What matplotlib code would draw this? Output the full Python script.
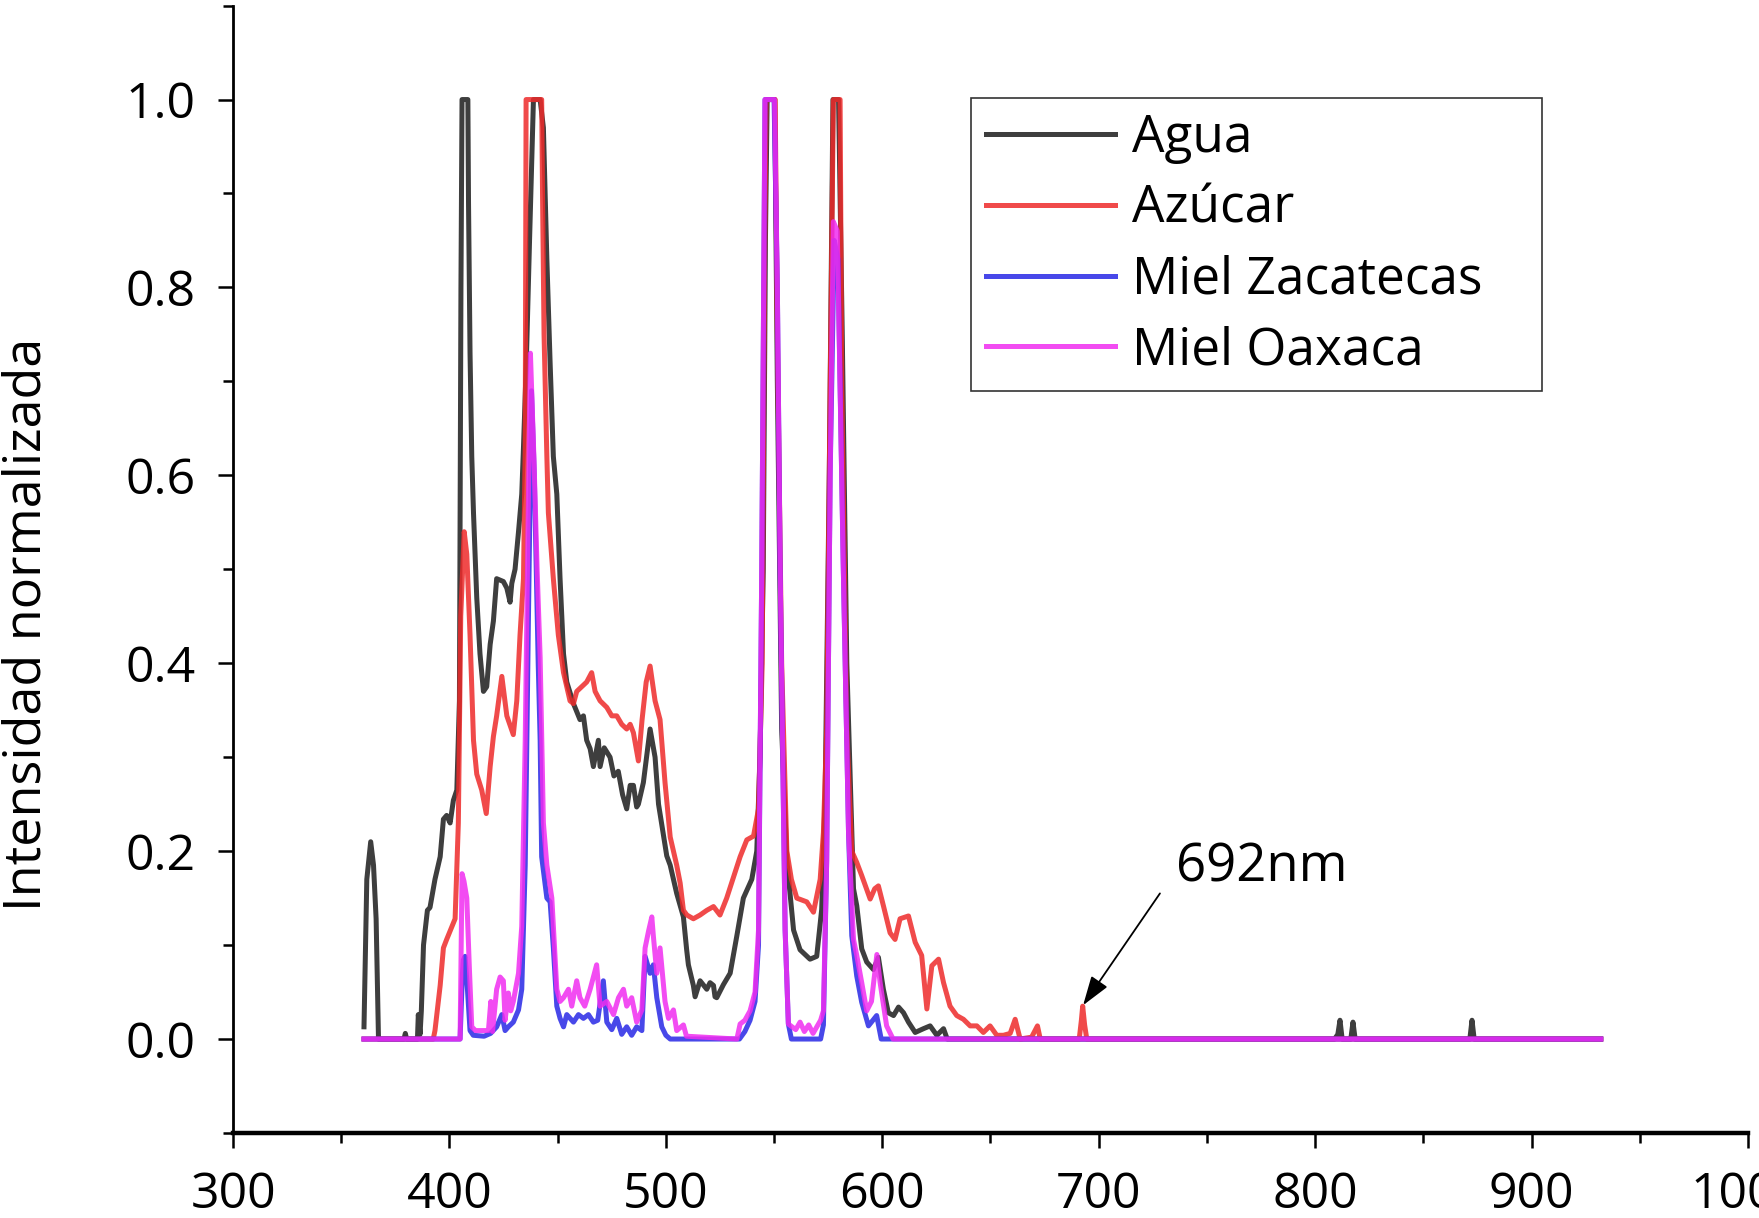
import matplotlib
matplotlib.use("Agg")
import matplotlib.pyplot as plt
from matplotlib.ticker import MultipleLocator

plt.rcParams['font.family'] = ['Open Sans', 'DejaVu Sans']

# Agua
agua_nm = [360.5, 361.8, 363.6, 364.9, 366.1, 367.2, 379.0, 379.6, 380.2, 385.2, 385.6, 386.4, 387.0, 388.0,
           389.8, 391.0, 393.3, 395.7, 397.2, 398.7, 400.3, 401.8, 403.4, 404.6, 405.3, 405.8, 408.5, 408.8,
           409.5, 410.3, 411.1, 412.6, 414.1, 415.7, 417.2, 418.8, 420.3, 421.8, 424.9, 426.5, 428.0, 428.8,
           430.3, 431.9, 433.4, 434.2, 435.5, 437.0, 438.8, 441.9, 443.4, 445.0, 446.5, 448.0, 449.6, 451.1,
           452.7, 454.2, 457.3, 460.3, 461.9, 463.4, 465.0, 466.5, 468.8, 469.6, 471.5, 474.2, 476.0, 478.0,
           480.0, 481.9, 483.5, 485.0, 486.5, 487.3, 489.6, 492.7, 495.0, 496.6, 498.0, 500.4, 502.0, 505.0,
           508.1, 509.6, 510.4, 512.7, 513.5, 515.8, 518.9, 520.4, 522.0, 522.7, 523.5, 526.6, 529.7, 532.8,
           535.8, 539.7, 542.0, 543.5, 545.0, 546.0, 546.8, 550.3, 551.5, 553.5, 555.9, 559.0, 562.0, 566.6,
           569.7, 572.0, 573.6, 575.5, 577.2, 579.8, 581.5, 583.6, 585.9, 586.7, 588.2, 590.5, 592.8, 595.9,
           598.2, 600.5, 602.8, 605.2, 607.5, 609.8, 612.1, 615.2, 619.0, 622.1, 625.2, 628.3, 630.0, 809.0,
           810.5, 811.5, 812.5, 816.5, 817.5, 818.5, 871.5, 872.5, 873.5, 932.0]
agua_int = [0.013, 0.17, 0.21, 0.185, 0.128, 0.0, 0.0, 0.006, 0.0, 0.0, 0.026, 0.005, 0.03, 0.10,
            0.137, 0.14, 0.17, 0.194, 0.234, 0.238, 0.23, 0.254, 0.265, 0.36, 0.8, 1.0, 1.0, 0.89,
            0.73, 0.62, 0.56, 0.47, 0.41, 0.37, 0.375, 0.42, 0.445, 0.49, 0.487, 0.48, 0.465, 0.485,
            0.50, 0.54, 0.58, 0.63, 0.72, 0.85, 1.0, 1.0, 0.97, 0.83, 0.72, 0.62, 0.58, 0.49,
            0.41, 0.38, 0.357, 0.34, 0.344, 0.318, 0.309, 0.29, 0.318, 0.29, 0.31, 0.30, 0.28, 0.285,
            0.26, 0.245, 0.27, 0.27, 0.247, 0.25, 0.273, 0.33, 0.30, 0.25, 0.23, 0.195, 0.185, 0.155,
            0.13, 0.095, 0.079, 0.057, 0.045, 0.062, 0.053, 0.06, 0.057, 0.045, 0.044, 0.058, 0.07, 0.11,
            0.15, 0.17, 0.2, 0.3, 0.5, 0.85, 1.0, 1.0, 0.7, 0.33, 0.19, 0.116, 0.095, 0.085,
            0.088, 0.138, 0.26, 0.6, 1.0, 1.0, 0.75, 0.40, 0.22, 0.16, 0.142, 0.096, 0.082, 0.074,
            0.087, 0.053, 0.028, 0.025, 0.034, 0.028, 0.018, 0.007, 0.011, 0.014, 0.004, 0.011, 0.0, 0.0,
            0.005, 0.02, 0.0, 0.0, 0.018, 0.0, 0.0, 0.02, 0.0, 0.0]

# Azucar
azucar_nm = [360.5, 392.5, 393.3, 395.7, 397.2, 398.7, 401.0, 402.6, 404.1, 405.2, 406.8, 408.0, 409.5, 411.1,
             412.6, 414.9, 417.0, 418.8, 420.3, 421.8, 424.2, 426.5, 429.5, 431.1, 432.6, 434.2, 435.0, 435.4,
             442.6, 443.0, 443.7, 445.0, 445.7, 448.0, 450.3, 452.7, 455.7, 457.3, 458.8, 461.1, 463.4, 465.7,
             467.3, 469.6, 472.7, 475.0, 477.3, 479.6, 481.9, 483.5, 485.0, 487.3, 489.0, 490.9, 492.7, 495.0,
             497.3, 499.6, 502.0, 505.0, 506.6, 508.1, 509.7, 512.7, 515.8, 518.9, 522.0, 525.0, 528.1, 531.2,
             534.3, 537.4, 540.5, 542.8, 544.5, 545.5, 546.3, 550.5, 551.5, 553.5, 555.9, 558.0, 560.5, 565.1,
             568.2, 571.3, 572.8, 574.3, 575.9, 577.4, 580.5, 581.3, 583.6, 585.9, 588.2, 590.5, 594.4, 596.5,
             598.2, 600.5, 603.6, 605.9, 608.2, 612.1, 615.2, 618.2, 620.6, 622.9, 626.0, 628.3, 631.3, 634.4,
             637.5, 640.6, 643.7, 646.7, 649.8, 652.9, 656.0, 659.1, 661.4, 663.7, 669.0, 671.7, 673.0, 691.0,
             692.0, 692.6, 693.5, 694.5, 932.0]
azucar_int = [0.0, 0.0, 0.009, 0.057, 0.097, 0.106, 0.119, 0.128, 0.23, 0.45, 0.54, 0.516, 0.43, 0.318,
              0.282, 0.265, 0.24, 0.29, 0.322, 0.344, 0.386, 0.344, 0.324, 0.36, 0.43, 0.49, 0.63, 1.0,
              1.0, 0.9, 0.75, 0.62, 0.56, 0.49, 0.43, 0.39, 0.36, 0.357, 0.37, 0.375, 0.38, 0.39,
              0.37, 0.36, 0.353, 0.344, 0.344, 0.335, 0.33, 0.335, 0.326, 0.296, 0.34, 0.38, 0.397, 0.36,
              0.34, 0.273, 0.215, 0.185, 0.166, 0.137, 0.132, 0.128, 0.132, 0.137, 0.141, 0.132, 0.15, 0.172,
              0.194, 0.212, 0.216, 0.245, 0.4, 0.8, 1.0, 1.0, 0.75, 0.4, 0.2, 0.17, 0.15, 0.146,
              0.135, 0.17, 0.22, 0.33, 0.69, 1.0, 1.0, 0.69, 0.33, 0.2, 0.188, 0.174, 0.149, 0.16,
              0.163, 0.142, 0.113, 0.106, 0.128, 0.131, 0.103, 0.089, 0.032, 0.078, 0.085, 0.06, 0.035, 0.025,
              0.021, 0.014, 0.014, 0.007, 0.014, 0.004, 0.004, 0.006, 0.021, 0.0, 0.002, 0.014, 0.0, 0.0,
              0.02, 0.035, 0.015, 0.0, 0.0]

# Miel Zacatecas
zacatecas_nm = [360.5, 404.9, 406.0, 406.4, 407.2, 408.3, 409.5, 411.0, 416.0, 419.0, 421.8, 424.2, 425.7, 427.2,
                429.5, 431.9, 433.4, 435.0, 436.5, 437.9, 439.2, 441.0, 441.9, 442.6, 445.0, 446.5, 448.0, 449.6,
                451.1, 452.7, 454.2, 457.3, 459.6, 461.9, 464.2, 466.5, 468.5, 471.1, 472.7, 475.0, 477.3, 479.6,
                481.9, 484.2, 486.5, 488.9, 490.4, 492.7, 494.2, 495.8, 498.1, 500.0, 502.0, 534.0, 536.5, 538.9,
                541.2, 542.8, 544.3, 545.8, 550.0, 551.5, 552.8, 555.1, 556.6, 558.0, 571.5, 572.8, 574.3, 575.9,
                577.8, 579.5, 582.0, 584.4, 585.9, 588.2, 590.5, 593.6, 597.4, 599.5, 932.0]
zacatecas_int = [0.0, 0.0, 0.07, 0.084, 0.088, 0.053, 0.009, 0.004, 0.003, 0.006, 0.013, 0.026, 0.009, 0.013,
                 0.018, 0.031, 0.053, 0.185, 0.45, 0.69, 0.6, 0.4, 0.318, 0.194, 0.15, 0.146, 0.097, 0.035,
                 0.022, 0.013, 0.026, 0.018, 0.026, 0.022, 0.026, 0.018, 0.02, 0.062, 0.018, 0.01, 0.022, 0.005,
                 0.013, 0.004, 0.013, 0.009, 0.088, 0.07, 0.079, 0.044, 0.013, 0.004, 0.0, 0.0, 0.008, 0.02,
                 0.04, 0.1, 0.5, 1.0, 1.0, 0.8, 0.5, 0.116, 0.016, 0.0, 0.0, 0.015, 0.19, 0.6,
                 0.85, 0.83, 0.5, 0.22, 0.11, 0.067, 0.039, 0.014, 0.025, 0.0, 0.0]

# Miel Oaxaca
oaxaca_nm = [360.5, 404.9, 405.8, 406.7, 408.0, 409.2, 410.3, 412.0, 418.0, 419.1, 419.9, 421.8, 423.4, 424.9,
             425.7, 427.2, 428.3, 429.5, 431.9, 433.4, 435.0, 436.5, 437.4, 439.0, 440.5, 441.9, 443.4, 445.0,
             447.3, 449.6, 451.1, 452.7, 455.0, 456.5, 458.8, 460.3, 462.5, 465.0, 468.0, 469.6, 472.7, 475.8,
             478.1, 480.4, 481.9, 484.2, 486.5, 488.9, 490.4, 492.0, 493.5, 494.2, 495.8, 497.3, 499.6, 501.2,
             503.5, 505.0, 508.1, 509.5, 532.8, 534.3, 536.5, 538.9, 541.2, 542.8, 544.3, 545.8, 550.2, 551.5,
             552.8, 555.1, 556.6, 560.0, 562.0, 564.0, 566.0, 568.0, 571.5, 572.8, 574.3, 575.9, 577.4, 579.2,
             582.0, 584.4, 586.7, 588.2, 590.5, 592.8, 595.0, 597.5, 599.0, 602.0, 605.0, 932.0]
oaxaca_int = [0.0, 0.0, 0.176, 0.168, 0.15, 0.075, 0.013, 0.009, 0.009, 0.04, 0.008, 0.053, 0.066, 0.062,
              0.02, 0.049, 0.03, 0.04, 0.07, 0.12, 0.318, 0.58, 0.73, 0.62, 0.5, 0.406, 0.23, 0.185,
              0.15, 0.053, 0.04, 0.044, 0.053, 0.035, 0.062, 0.044, 0.035, 0.053, 0.079, 0.035, 0.04, 0.026,
              0.044, 0.053, 0.035, 0.044, 0.018, 0.031, 0.097, 0.115, 0.13, 0.11, 0.07, 0.097, 0.04, 0.022,
              0.031, 0.009, 0.015, 0.003, 0.0, 0.016, 0.02, 0.03, 0.05, 0.116, 0.5, 1.0, 1.0, 0.8,
              0.5, 0.116, 0.016, 0.01, 0.018, 0.008, 0.015, 0.006, 0.02, 0.03, 0.19, 0.6, 0.87, 0.86,
              0.5, 0.22, 0.106, 0.089, 0.06, 0.03, 0.04, 0.09, 0.06, 0.014, 0.0, 0.0]

fig = plt.figure(figsize=(17.59, 12.18), dpi=100)
ax = fig.add_axes([0.1325, 0.0698, 0.8612, 0.9256])

lw = 3.6
ax.plot(agua_nm, agua_int, color='#333333', lw=lw, alpha=0.95, label='Agua')
ax.plot(azucar_nm, azucar_int, color='#ee2a2a', lw=lw, alpha=0.85, label='Azúcar')
ax.plot(zacatecas_nm, zacatecas_int, color='#2828e6', lw=lw, alpha=0.85, label='Miel Zacatecas')
ax.plot(oaxaca_nm, oaxaca_int, color='#f02cf0', lw=lw, alpha=0.85, label='Miel Oaxaca')

ax.set_xlim(300, 1000)
ax.set_ylim(-0.1, 1.1)
ax.xaxis.set_major_locator(MultipleLocator(100))
ax.xaxis.set_minor_locator(MultipleLocator(50))
ax.yaxis.set_major_locator(MultipleLocator(0.2))
ax.yaxis.set_minor_locator(MultipleLocator(0.1))
ax.yaxis.set_major_formatter(plt.FormatStrFormatter('%.1f'))

for s in ['top', 'right']:
    ax.spines[s].set_visible(False)
ax.spines['left'].set_linewidth(2.0)
ax.spines['bottom'].set_linewidth(3.2)
ax.tick_params(which='major', direction='out', length=11, width=1.8, labelsize=36, pad=16)
ax.tick_params(which='minor', direction='out', length=7, width=1.8)

ax.set_ylabel('Intensidad normalizada', fontsize=37.5)
ax.yaxis.set_label_coords(-0.1195, 0.451)

ax.text(735.5, 0.182, '692nm', fontsize=38, ha='left', va='center')
ax.annotate('', xy=(692.8, 0.036), xytext=(728.3, 0.155),
            arrowprops=dict(arrowstyle='-|>,head_length=0.6,head_width=0.2', color='black',
                            lw=1.3, mutation_scale=30, shrinkA=0, shrinkB=0))

leg = ax.legend(loc='upper left', bbox_to_anchor=(0.487, 0.664, 0.377, 0.254), mode='expand',
                borderaxespad=0, fontsize=37, frameon=True, fancybox=False, handlelength=2.5,
                handletextpad=0.33, labelspacing=0.38, borderpad=0.3)
leg.get_frame().set_edgecolor('black')
leg.get_frame().set_linewidth(1.2)
for line in leg.get_lines():
    line.set_linewidth(3.6)

fig.savefig('out.png', dpi=100)
